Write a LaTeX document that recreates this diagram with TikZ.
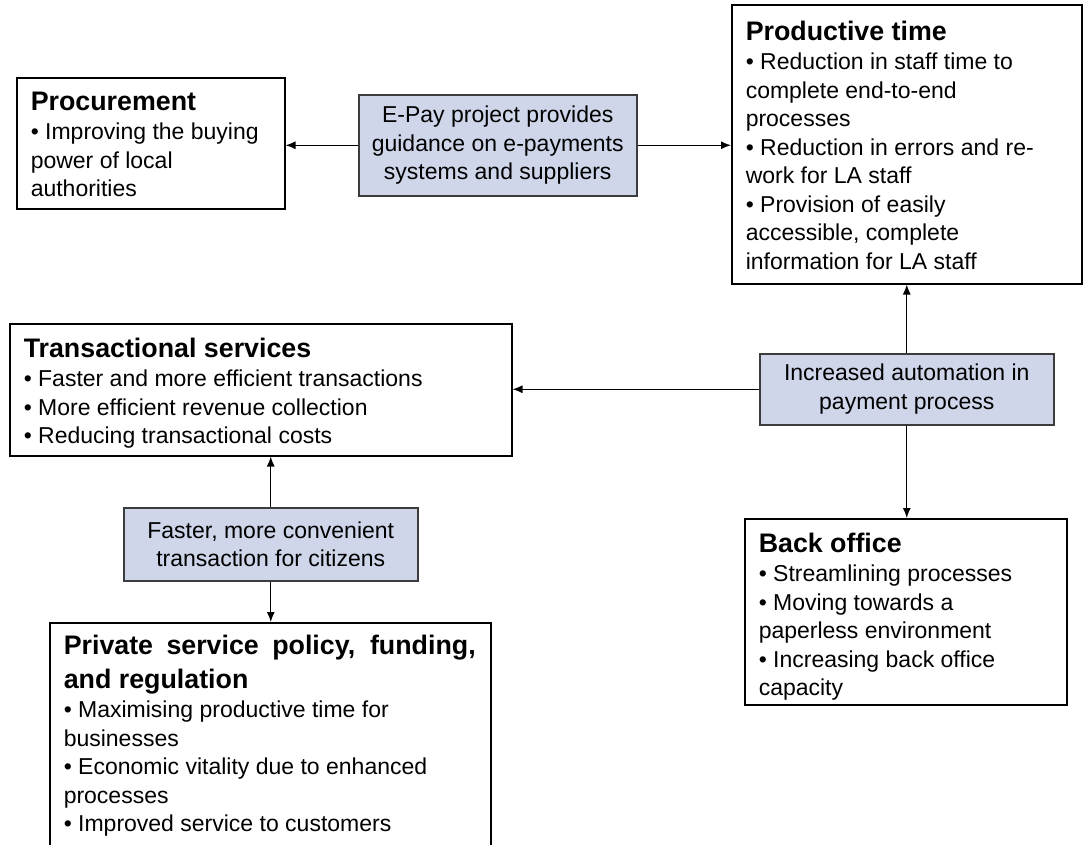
\documentclass[tikz,border=0pt]{standalone}
\usepackage{fontspec}
\setmainfont{Liberation Sans}
\usepackage{xcolor}
\definecolor{linkblue}{RGB}{207,214,234}
\definecolor{linkedge}{RGB}{60,60,60}
\usetikzlibrary{arrows.meta}

\newcommand{\headfont}{\fontsize{26.8}{34}\selectfont\bfseries}
\newcommand{\bodyfont}{\fontsize{23}{28.5}\selectfont}
% box body: [top gap], width, height, contents (text kept at the top)
\newcommand{\boxbody}[4][14pt]{\parbox[c][#3][t]{#2}{\raggedright\leftskip=14pt\bodyfont\vspace*{#1}#4}}
\newcommand{\boxhead}[1]{{\headfont #1\par}\vspace{1pt}}

\tikzset{
  infobox/.style={draw, line width=1.5pt, anchor=north west, inner sep=0pt},
  linkbox/.style={draw=linkedge, fill=linkblue, line width=1.5pt, anchor=north west,
                  inner sep=0pt, align=center, font=\bodyfont},
  link/.style={-{Latex[length=10pt, width=8pt]}, line width=1.3pt},
}

\begin{document}
\begin{tikzpicture}[x=1pt, y=-1pt]
  \clip (0,0) rectangle (1083,844);

  % Outcome boxes
  \node[infobox] (proc) at (16,77) {\boxbody{268pt}{131pt}{%
    \boxhead{Procurement}
    • Improving the buying\\ power of local\\ authorities}};

  \node[infobox] (prod) at (731,4) {\boxbody[16pt]{350pt}{279pt}{%
    \boxhead{Productive time}
    • Reduction in staff time to\\ complete end-to-end\\ processes\\
    • Reduction in errors and re-\\ work for LA staff\\
    • Provision of easily\\ accessible, complete\\ information for LA staff}};

  \node[infobox] (trans) at (9,323) {\boxbody{502pt}{132pt}{%
    \boxhead{Transactional services}
    • Faster and more efficient transactions\\
    • More efficient revenue collection\\
    • Reducing transactional costs}};

  \node[infobox] (back) at (744,518) {\boxbody{322pt}{186pt}{%
    \boxhead{Back office}
    • Streamlining processes\\
    • Moving towards a\\ paperless environment\\
    • Increasing back office\\ capacity}};

  \node[infobox] (priv) at (49,622) {\boxbody[12pt]{441pt}{250pt}{%
    \boxhead{\makebox[412pt][s]{Private service policy, funding,}\\ and regulation}
    • Maximising productive time for\\ businesses\\
    • Economic vitality due to enhanced\\ processes\\
    • Improved service to customers}};

  % Drivers
  \node[linkbox, minimum width=278pt, minimum height=101pt] (epay) at (358,94)
    {E-Pay project provides\\ guidance on e-payments\\ systems and suppliers};
  \node[linkbox, minimum width=294pt, minimum height=71pt] (auto) at (759,353)
    {Increased automation in\\ payment process};
  \node[linkbox, minimum width=294pt, minimum height=73pt] (fast) at (123,507)
    {Faster, more convenient\\ transaction for citizens};

  % Connectors
  \draw[link] (epay.west) -- (epay.west -| proc.east);
  \draw[link] (epay.east) -- (epay.east -| prod.west);
  \draw[link] (auto.north) -- (auto.north |- prod.south);
  \draw[link] (auto.west) -- (auto.west -| trans.east);
  \draw[link] (auto.south) -- (auto.south |- back.north);
  \draw[link] (fast.north) -- (fast.north |- trans.south);
  \draw[link] (fast.south) -- (fast.south |- priv.north);
\end{tikzpicture}
\end{document}
